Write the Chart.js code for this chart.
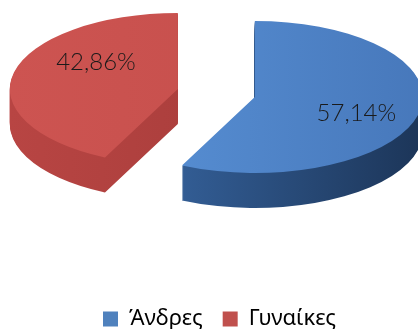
<!DOCTYPE html>
<html>
<head>
<meta charset="utf-8">
<script src="https://cdn.jsdelivr.net/npm/chart.js@4.4.1/dist/chart.umd.min.js"></script>
<style>
  html, body { margin: 0; padding: 0; background: #fff; }
</style>
</head>
<body>
<canvas id="myChart" width="418" height="329"></canvas>
<script>
const labels = ["Άνδρες", "Γυναίκες"];
const shares = [57.14, 42.86];
const colors = ["#4f81bd", "#c0504d"];

// top face and side wall shades (left -> right)
const topShade = [["#5a93d8", "#4778bb"], ["#cd5451", "#c44e4b"]];
const sideShade = [["#3b6cab", "#1c3558"], ["#b84543", "#a23a38"]];

// how far each slice is pulled out, as a share of the radius
const explode = [0.06, 0.41];
const labelAt = [0.62, 0.5];
const labelLift = [-6, 18];

// flattened, extruded look
const RX = 168, RY = 76, DEPTH = 35;
const CX = 245, CY = 96;

function tilt(ctx, el) {
  const R = el.outerRadius;
  ctx.translate(CX, CY);
  ctx.scale(RX / R, RY / R);
  ctx.translate(-el.x, -el.y);
}

function paint(ctx, el, fill) {
  const saved = el.options;
  el.options = Object.assign({}, saved, { backgroundColor: fill, borderWidth: 0, offset: 0 });
  el.draw(ctx);
  el.options = saved;
}

function pull(el, i) {
  const half = (el.startAngle + el.endAngle) / 2;
  const p = explode[i] * el.outerRadius;
  return [Math.cos(half) * p, Math.sin(half) * p];
}

const pie3d = {
  id: "pie3d",
  beforeDatasetDraw(chart, args) {
    const ctx = chart.ctx;
    args.meta.data.forEach((el, i) => {
      const R = el.outerRadius;
      const [dx, dy] = pull(el, i);
      const side = ctx.createLinearGradient(el.x - R, 0, el.x + R, 0);
      side.addColorStop(0, sideShade[i][0]);
      side.addColorStop(1, sideShade[i][1]);
      for (let d = DEPTH; d >= 1; d--) {
        ctx.save();
        ctx.translate(0, d);
        tilt(ctx, el);
        ctx.translate(dx, dy);
        paint(ctx, el, side);
        ctx.restore();
      }
      const top = ctx.createLinearGradient(el.x - R, 0, el.x + R, 0);
      top.addColorStop(0, topShade[i][0]);
      top.addColorStop(1, topShade[i][1]);
      ctx.save();
      tilt(ctx, el);
      ctx.translate(dx, dy);
      paint(ctx, el, top);
      ctx.restore();
    });
    return false;
  },
  afterDatasetsDraw(chart) {
    const ctx = chart.ctx;
    const meta = chart.getDatasetMeta(0);
    ctx.save();
    ctx.font = "300 24px Lato";
    ctx.fillStyle = "#1a1a1a";
    ctx.textAlign = "center";
    ctx.textBaseline = "middle";
    meta.data.forEach((el, i) => {
      const R = el.outerRadius;
      const half = (el.startAngle + el.endAngle) / 2;
      const r = (explode[i] + labelAt[i]) * R;
      const x = CX + Math.cos(half) * r * RX / R;
      const y = CY + Math.sin(half) * r * RY / R - labelLift[i];
      ctx.fillText(shares[i].toFixed(2).replace(".", ",") + "%", x, y);
    });
    ctx.restore();
  }
};

new Chart("myChart", {
  type: "pie",
  data: {
    labels: labels,
    datasets: [{
      data: shares,
      backgroundColor: colors,
      borderColor: colors,
      borderWidth: 0,
      clip: false
    }]
  },
  options: {
    responsive: false,
    animation: false,
    events: [],
    layout: { padding: { left: 21, bottom: -11 } },
    plugins: {
      tooltip: { enabled: false },
      legend: {
        position: "bottom",
        labels: {
          boxWidth: 15,
          boxHeight: 15,
          padding: 20,
          color: "#000",
          font: { family: "Noto Sans", size: 22 }
        }
      }
    }
  },
  plugins: [pie3d]
});
</script>
</body>
</html>
